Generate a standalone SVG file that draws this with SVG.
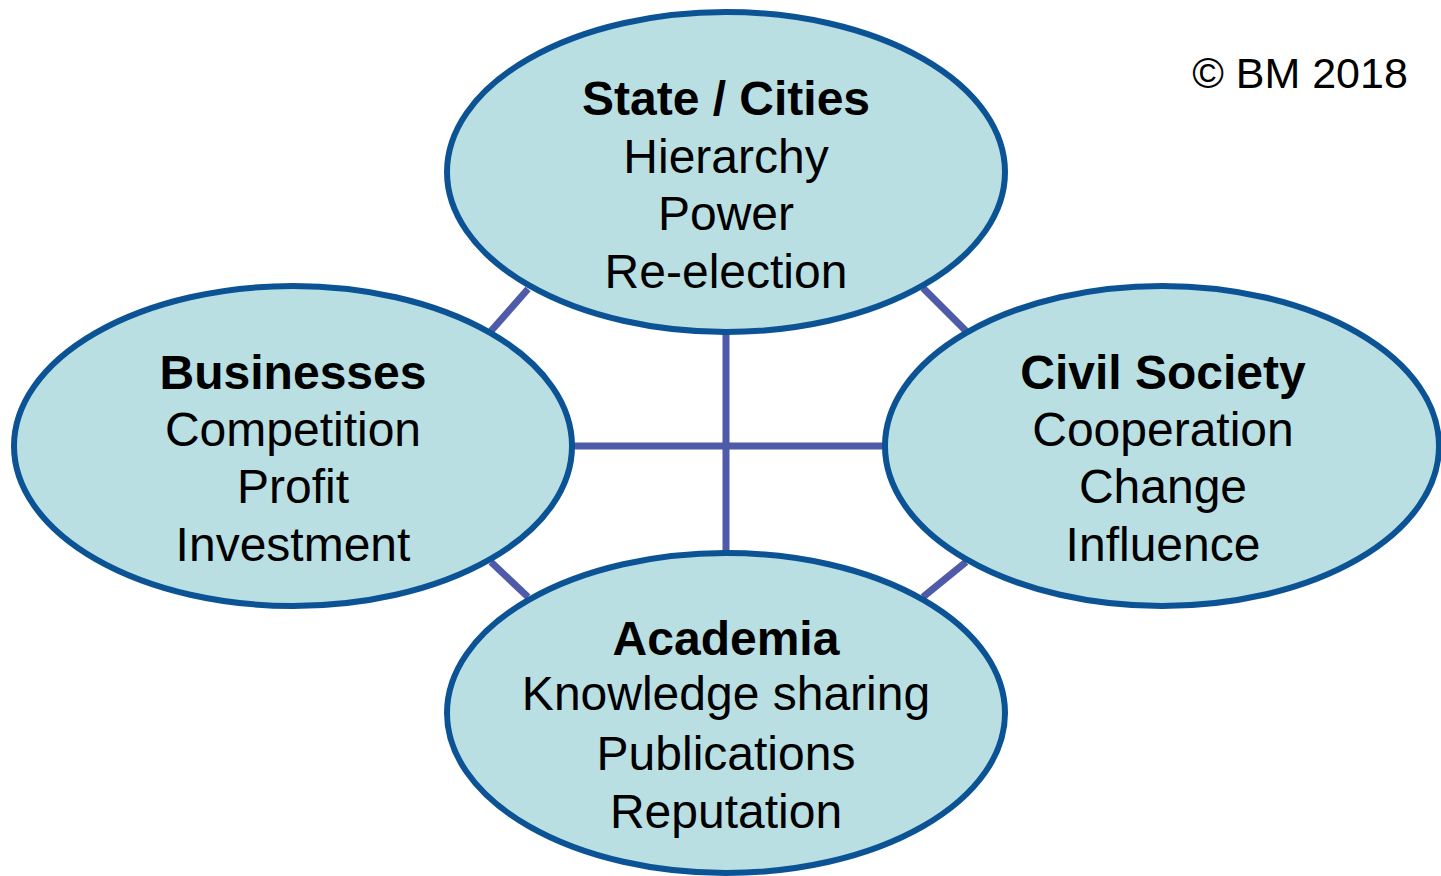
<svg xmlns="http://www.w3.org/2000/svg" width="1441" height="876" viewBox="0 0 1441 876">
<style>
.node ellipse{fill:#b9dfe3;stroke:#0b5394;stroke-width:6}
.conn line{stroke:#4f5ba8;stroke-width:7}
text{font-family:"Liberation Sans",Arial,sans-serif;font-size:48px;fill:#000;text-anchor:middle}
.b{font-weight:bold}
</style>
<rect width="1441" height="876" fill="#fff"/>
<g id="connectors" class="conn">
<line x1="726" y1="333" x2="726" y2="552"/>
<line x1="572" y1="446" x2="884" y2="446"/>
<line x1="491" y1="331" x2="528" y2="289"/>
<line x1="923" y1="288" x2="966" y2="331"/>
<line x1="491" y1="562" x2="528" y2="597"/>
<line x1="923" y1="597" x2="966" y2="562"/>
</g>
<g id="state" class="node">
<ellipse cx="726" cy="172" rx="279" ry="160"/>
<text x="726" y="115" class="b">State / Cities</text>
<text x="726" y="173">Hierarchy</text>
<text x="726" y="230">Power</text>
<text x="726" y="288">Re-election</text>
</g>
<g id="businesses" class="node">
<ellipse cx="293" cy="446" rx="279" ry="160"/>
<text x="293" y="389" class="b">Businesses</text>
<text x="293" y="446">Competition</text>
<text x="293" y="503">Profit</text>
<text x="293" y="561">Investment</text>
</g>
<g id="civil" class="node">
<ellipse cx="1162" cy="446" rx="277" ry="160"/>
<text x="1163" y="389" class="b">Civil Society</text>
<text x="1163" y="446">Cooperation</text>
<text x="1163" y="503">Change</text>
<text x="1163" y="561">Influence</text>
</g>
<g id="academia" class="node">
<ellipse cx="726" cy="713" rx="279" ry="160"/>
<text x="726" y="655" class="b">Academia</text>
<text x="726" y="710">Knowledge sharing</text>
<text x="726" y="770">Publications</text>
<text x="726" y="828">Reputation</text>
</g>
<text x="1300" y="88" style="font-size:43px">© BM 2018</text>
</svg>
